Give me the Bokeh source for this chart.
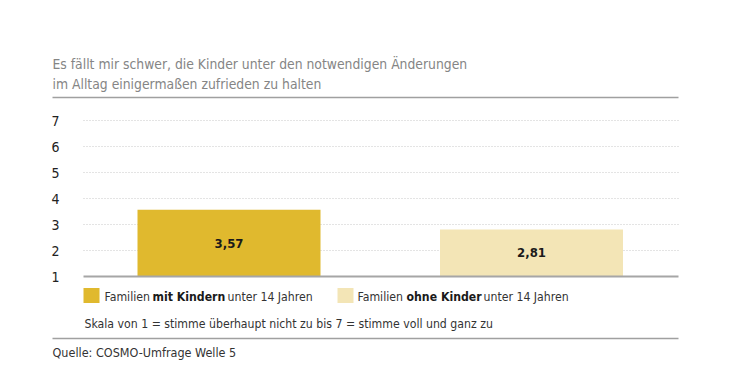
from bokeh.plotting import figure
from bokeh.models import Range1d, Label
from bokeh.core.properties import value
from bokeh.embed import file_html
from bokeh.resources import INLINE

# ---- data ----
groups = ["mit Kindern", "ohne Kinder"]
values = [3.57, 2.81]
value_labels = ["3,57", "2,81"]
bar_colors = ["#E0B92E", "#F3E5B6"]
ticks = [1, 2, 3, 4, 5, 6, 7]
tick_labels = ["1", "2", "3", "4", "5", "6", "7"]
title_lines = ["Es fällt mir schwer, die Kinder unter den notwendigen Änderungen",
               "im Alltag einigermaßen zufrieden zu halten"]
scale_note = "Skala von 1 = stimme überhaupt nicht zu bis 7 = stimme voll und ganz zu"
source = "Quelle: COSMO-Umfrage Welle 5"

FONT = "DejaVu Sans Condensed"
W, H = 714, 376
XS = 302.5   # px per x unit
YS = 26.0    # px per y unit

def dx(px):   # page px -> data x
    return 0.5 + (px - 228.5) / XS

def dy(py):   # page px -> data y
    return 1 + (276 - py) / YS

p = figure(width=W, height=H, output_backend="svg", toolbar_location=None,
           x_range=Range1d(dx(0), dx(W)), y_range=Range1d(dy(H), dy(0)),
           min_border=0, min_border_left=0, min_border_right=0,
           min_border_top=0, min_border_bottom=0)
p.axis.visible = False
p.grid.visible = False
p.outline_line_color = None
p.background_fill_color = "white"
p.border_fill_color = "white"

# gridlines (dotted)
p.segment(x0=[dx(83)] * 6, x1=[dx(678)] * 6, y0=ticks[1:], y1=ticks[1:],
          line_color="#c8c8c8", line_width=1, line_dash="1 2")

# bars
xs = [0.5, 1.5]
p.vbar(x=xs, top=values, bottom=1, width=183 / XS, fill_color=bar_colors, line_color=None)

# baseline
p.segment(x0=[dx(83)], x1=[dx(678)], y0=[1], y1=[1], line_color="#a6a6a6", line_width=2)

# value labels
p.text(x=xs, y=[(1 + v) / 2 for v in values], text=value_labels,
       text_font=value(FONT), text_font_style="bold", text_font_size="13px",
       text_color="#1a1a1a", text_align="center", text_baseline="middle")

# y tick labels
p.text(x=[dx(59)] * len(ticks), y=ticks, text=tick_labels,
       text_font=value(FONT), text_font_size="14px", text_color="#222222",
       text_align="right", text_baseline="middle")

def lab(x, y, t, size="12.2px", color="#333333", style="normal"):
    p.add_layout(Label(x=dx(x), y=dy(y), text=t, text_font=FONT, text_font_size=size,
                       text_color=color, text_font_style=style,
                       text_align="left", text_baseline="middle"))

# title
lab(52, 63, title_lines[0], size="13.8px", color="#858585")
lab(52, 83, title_lines[1], size="13.8px", color="#858585")
# rules
p.segment(x0=[dx(52), dx(52)], x1=[dx(678), dx(678)], y0=[dy(97), dy(338)], y1=[dy(97), dy(338)],
          line_color="#a0a0a0", line_width=1.5)

# legend
p.rect(x=[dx(91), dx(345)], y=[dy(295), dy(295)], width=16 / XS, height=15 / YS,
       fill_color=bar_colors, line_color=None)
lab(104, 296, "Familien")
lab(152, 296, "mit Kindern", style="bold", color="#1a1a1a")
lab(227, 296, "unter 14 Jahren")
lab(357, 296, "Familien")
lab(406, 296, "ohne Kinder", style="bold", color="#1a1a1a")
lab(483, 296, "unter 14 Jahren")

lab(84, 323, scale_note)
lab(52, 352, source, size="12.5px")

open("out.html", "w").write(file_html(p, INLINE))
